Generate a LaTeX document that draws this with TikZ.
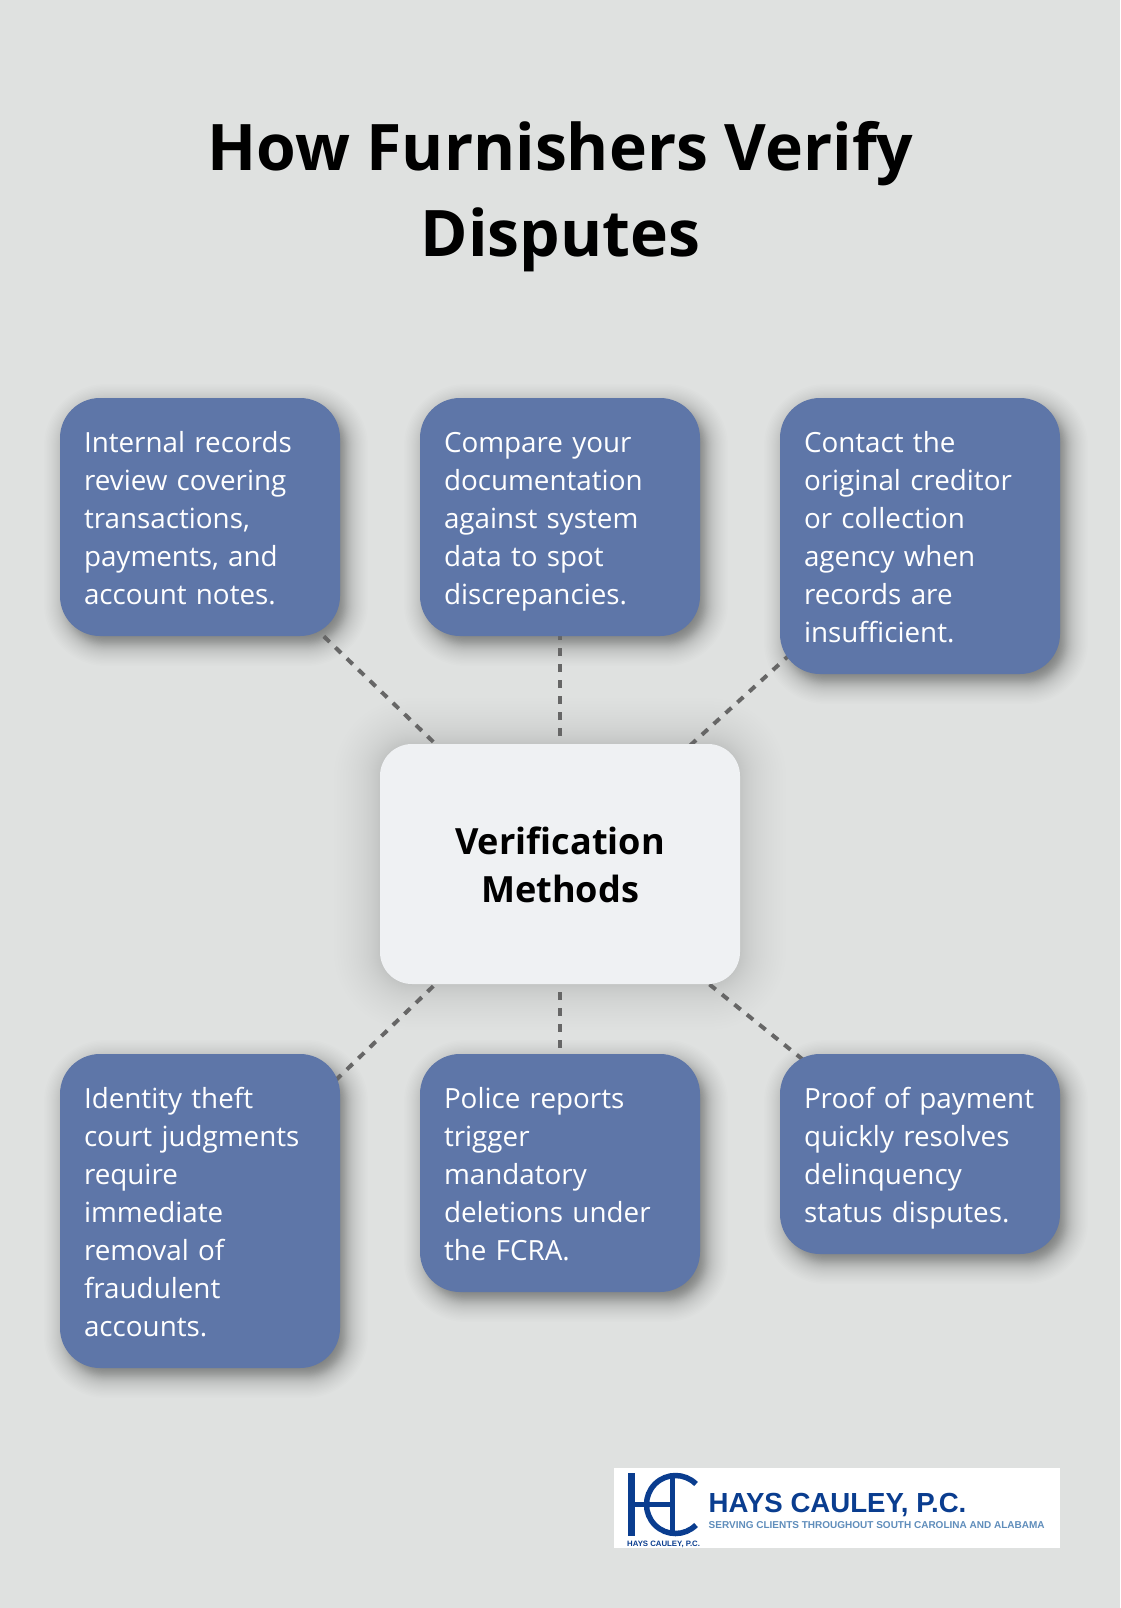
\documentclass[tikz,border=0pt]{standalone}
\usepackage{fontspec}
\setmainfont{Open Sans}
\newfontfamily\logofont{Liberation Sans}
\usetikzlibrary{backgrounds}

\definecolor{pagebg}{HTML}{DFE1E0}
\definecolor{boxblue}{HTML}{5E76A8}
\definecolor{hubgray}{HTML}{EFF1F3}
\definecolor{linkgray}{HTML}{666666}
\definecolor{logoblue}{HTML}{0A3D8F}
\definecolor{logosky}{HTML}{5F8DBB}

\newcommand{\boxstrut}{\rule[-7.2pt]{0pt}{38pt}}
\newcommand{\hubstrut}{\rule{0pt}{29.5pt}}
% node, opacity of a layer, spread, x offset, y offset, corner radius
\newcommand{\softshadow}[6]{%
  \foreach \t [evaluate=\t as \i using #3*(0.5*\t/28+0.5*(\t/28)*(\t/28)*(\t/28))] in {-28,-27,...,28} {
    \fill[black,opacity=#2,rounded corners={max(#6+\i,2)*1pt}]
      ([xshift={(#4-\i)*1pt},yshift={(-#5+\i)*1pt}]#1.north west) rectangle
      ([xshift={(#4+\i)*1pt},yshift={(-#5-\i)*1pt}]#1.south east);
  }}

\begin{document}
\begin{tikzpicture}[x=1pt,y=-1pt,
  infobox/.style={anchor=north west,fill=boxblue,text=white,rounded corners=40pt,
    text width=232pt,inner sep=24pt,outer sep=0pt,align=left,
    font=\fontsize{27.8}{38}\selectfont,
    execute at begin node=\boxstrut,execute at end node=\boxstrut},
  hubbox/.style={fill=hubgray,text=black,rounded corners=32pt,minimum width=360pt,
    minimum height=240pt,inner sep=0pt,outer sep=0pt,align=center,
    font=\fontsize{36.1}{48}\selectfont\bfseries},
  titlenode/.style={text=black,inner sep=0pt,align=center,
    font=\fontsize{64.2}{86.5}\selectfont\bfseries},
  dashlink/.style={draw=linkgray,line width=4pt,dash pattern=on 8pt off 8pt},
  logoline/.style={draw=logoblue,line width=5.5pt}]
\useasboundingbox (0,0) rectangle (1120,1608);

\node[titlenode] (title) at (560.5,196.5) {How Furnishers Verify\\Disputes};

\node[hubbox] (hub) at (560,864) {\hubstrut Verification\\Methods};

\node[infobox] (records) at (60,398) {Internal records\\review covering\\transactions,\\payments, and\\account notes.};
\node[infobox] (compare) at (420,398) {Compare your\\documentation\\against system\\data to spot\\discrepancies.};
\node[infobox] (contact) at (780,398) {Contact the\\original creditor\\or collection\\agency when\\records are\\insufficient.};
\node[infobox] (theft) at (60,1054) {Identity theft\\court judgments\\require\\immediate\\removal of\\fraudulent\\accounts.};
\node[infobox] (police) at (420,1054) {Police reports\\trigger\\mandatory\\deletions under\\the FCRA.};
\node[infobox] (payment) at (780,1054) {Proof of payment\\quickly resolves\\delinquency\\status disputes.};

% shadows and dashed links sit under the boxes
\begin{scope}[on background layer]
  \fill[pagebg] (0,0) rectangle (1120,1608);
  \softshadow{hub}{0.005}{46}{0}{0}{32}
  \foreach \b in {records,compare,contact,theft,police,payment} {
    \softshadow{\b}{0.00075}{30}{0}{0}{40}
    \softshadow{\b}{0.0065}{22}{6}{8}{40}
  }
  \foreach \b in {records,compare,contact,theft,police,payment}
    \draw[dashlink] (hub.center) -- (\b.center);
\end{scope}

% logo
\node[fill=white,minimum width=446pt,minimum height=80pt,inner sep=0pt,anchor=north west] (logo) at (614,1468) {};
\coordinate (hc) at (675.5,1504.5);
\draw[logoline,line width=7pt] (631,1473) -- (631,1536);
\draw[logoline] (631,1504.5) -- (674,1504.5);
\draw[logoline,line width=4.5pt] (672.5,1473) -- (672.5,1536);
\draw[logoline] (hc) ++(45:29pt) arc[start angle=45,end angle=315,radius=29pt];
\node[anchor=base west,inner sep=0pt,text=logoblue,font=\logofont\fontsize{27.6}{30}\selectfont\bfseries] (logoname) at (708.5,1512) {HAYS CAULEY, P.C.};
\node[anchor=base west,inner sep=0pt,text=logosky,font=\logofont\fontsize{10}{12}\selectfont\bfseries] (logotag) at (708.5,1528) {SERVING CLIENTS THROUGHOUT SOUTH CAROLINA AND ALABAMA};
\node[anchor=base west,inner sep=0pt,text=logoblue,font=\logofont\fontsize{7.8}{9}\selectfont\bfseries] (logosmall) at (627,1546) {HAYS CAULEY, P.C.};
\end{tikzpicture}
\end{document}
